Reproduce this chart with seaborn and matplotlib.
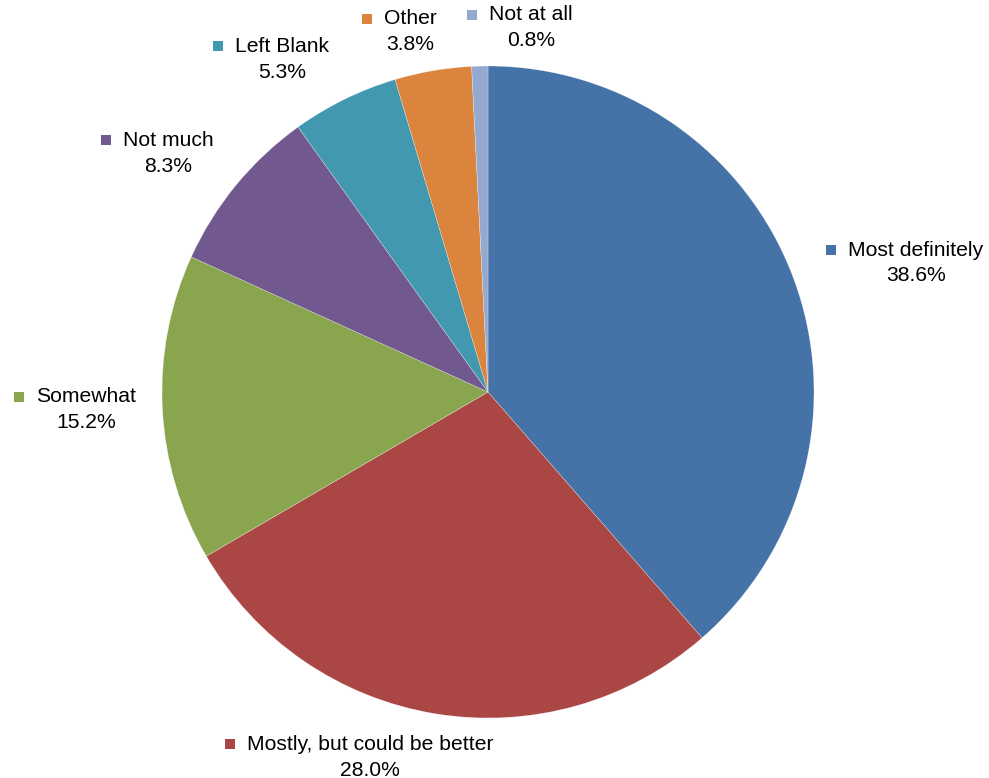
import matplotlib
matplotlib.use("Agg")
import matplotlib.pyplot as plt
import seaborn as sns
from matplotlib.patches import Rectangle

# Survey responses
categories = ["Most definitely", "Mostly, but could be better", "Somewhat",
              "Not much", "Left Blank", "Other", "Not at all"]
shares = [38.6, 28.0, 15.2, 8.3, 5.3, 3.8, 0.8]
pct_labels = ["38.6%", "28.0%", "15.2%", "8.3%", "5.3%", "3.8%", "0.8%"]
colors = ["#4572A7", "#AA4643", "#89A54E", "#71588F", "#4198AF", "#DB843D", "#93A9CF"]

# Label anchor (centre x, name-line y) in pixels from the top-left corner
label_xy = [(916, 250), (370, 744), (86, 397), (168, 140),
            (282, 46), (410, 19), (531, 15)]

sns.set_theme(style="white")
plt.rcParams["font.family"] = ["Liberation Sans", "DejaVu Sans"]

W, H, DPI = 989, 778, 100
fig = plt.figure(figsize=(W / DPI, H / DPI), dpi=DPI)
fig.patch.set_facecolor("white")

cx, cy, r = 488, 392, 326
ax = fig.add_axes([(cx - r) / W, (H - cy - r) / H, 2 * r / W, 2 * r / H])
ax.pie(shares, colors=sns.color_palette(colors), startangle=90,
       counterclock=False, radius=1,
       wedgeprops=dict(edgecolor=(1, 1, 1, 0.6), linewidth=0.3))
ax.set_xlim(-1, 1)
ax.set_ylim(-1, 1)
ax.set_aspect("equal")
ax.axis("off")

fs = 15.2
line_gap = 26
sq = 10

def fx(px):
    return px / W

def fy(py):
    return (H - py) / H

fig.canvas.draw()
renderer = fig.canvas.get_renderer()
for name, pct, col, (x, y) in zip(categories, pct_labels, colors, label_xy):
    t = fig.text(fx(x), fy(y), name, ha="center", va="center",
                 fontsize=fs, color="black")
    fig.text(fx(x), fy(y + line_gap), pct, ha="center", va="center",
             fontsize=fs, color="black")
    bb = t.get_window_extent(renderer=renderer)
    left = bb.x0 - 12 - sq
    fig.patches.append(Rectangle((left / W, (H - y - sq / 2) / H), sq / W, sq / H,
                                 transform=fig.transFigure, facecolor=col,
                                 edgecolor="none"))

fig.savefig("out.png", dpi=DPI, facecolor="white")
